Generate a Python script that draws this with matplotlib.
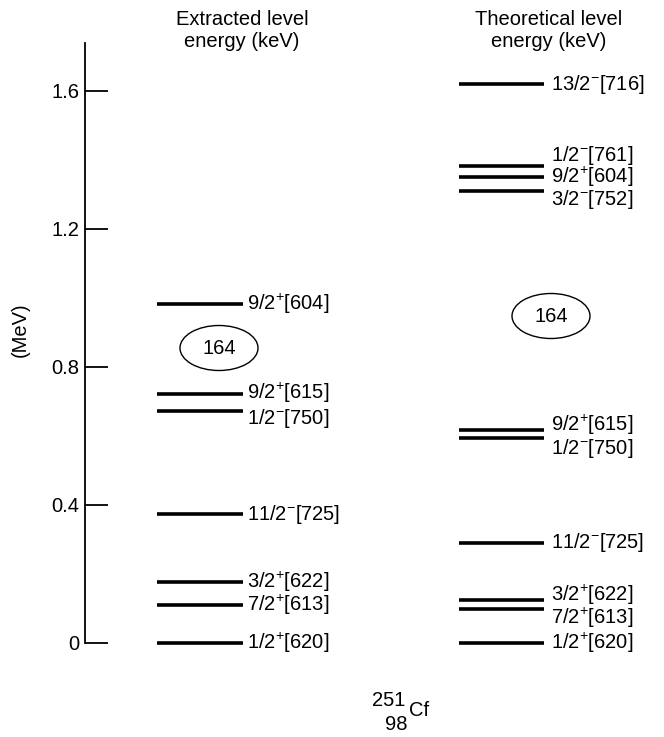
import matplotlib.pyplot as plt
from matplotlib.patches import Ellipse

plt.rcParams['font.family'] = ['Liberation Sans', 'DejaVu Sans']
plt.rcParams['mathtext.fontset'] = 'custom'
plt.rcParams['mathtext.rm'] = 'Liberation Sans'
plt.rcParams['mathtext.it'] = 'Liberation Sans:italic'
plt.rcParams['mathtext.bf'] = 'Liberation Sans:bold'

# level energies (MeV)
extracted_labels = ['1/2$^{+}$[620]', '7/2$^{+}$[613]', '3/2$^{+}$[622]', '11/2$^{-}$[725]',
                    '1/2$^{-}$[750]', '9/2$^{+}$[615]', '9/2$^{+}$[604]']
extracted_energy = [0.0, 0.108, 0.177, 0.373, 0.671, 0.720, 0.981]

theory_labels = ['1/2$^{+}$[620]', '7/2$^{+}$[613]', '3/2$^{+}$[622]', '11/2$^{-}$[725]',
                 '1/2$^{-}$[750]', '9/2$^{+}$[615]', '3/2$^{-}$[752]', '9/2$^{+}$[604]',
                 '1/2$^{-}$[761]', '13/2$^{-}$[716]']
theory_energy = [0.0, 0.097, 0.123, 0.290, 0.592, 0.617, 1.310, 1.349, 1.383, 1.619]

yticks = [0, 0.4, 0.8, 1.2, 1.6]
ytick_labels = ['0', '0.4', '0.8', '1.2', '1.6']

# label nudges (pixels, + = up) so crowded labels don't overlap
extracted_nudge = [0, 0, 0, 0, -7, 1, 0]
theory_nudge = [0, -9, 5, 0, -10, 5, -9, 0, 10, 0]

FS = 14.5

fig = plt.figure(figsize=(6.64, 7.37), dpi=100)
ax = fig.add_axes([0, 0, 1, 1])
px = 345.0  # pixels per MeV
y0 = 642.7
ax.set_xlim(0, 664)
ax.set_ylim((y0 - 737) / px, y0 / px)

for s in ['top', 'right', 'bottom']:
    ax.spines[s].set_visible(False)
ax.spines['left'].set_position(('data', 85))
ax.spines['left'].set_bounds(0, (y0 - 42.7) / px)
ax.spines['left'].set_linewidth(1.3)
ax.set_xticks([])
ax.set_yticks(yticks)
ax.set_yticklabels(ytick_labels)
ax.tick_params(axis='y', direction='in', length=16.5, width=1.3, labelsize=FS, pad=4)
ax.patch.set_visible(False)

ax.text(20, (y0 - 330) / px, '(MeV)', rotation=90, ha='center', va='center', fontsize=FS)

# levels
ax.hlines(extracted_energy, 157, 243, color='black', linewidth=2.6)
for lab, e, dn in zip(extracted_labels, extracted_energy, extracted_nudge):
    ax.annotate(lab, (247, e), xytext=(0, dn * 0.72), textcoords='offset points',
                ha='left', va='center', fontsize=FS)

ax.hlines(theory_energy, 459, 544, color='black', linewidth=2.6)
for lab, e, dn in zip(theory_labels, theory_energy, theory_nudge):
    ax.annotate(lab, (551, e), xytext=(0, dn * 0.72), textcoords='offset points',
                ha='left', va='center', fontsize=FS)

# column headers
ax.text(242, (y0 - 30) / px, 'Extracted level\nenergy (keV)', ha='center', va='center',
        fontsize=FS, linespacing=1.2)
ax.text(549, (y0 - 30) / px, 'Theoretical level\nenergy (keV)', ha='center', va='center',
        fontsize=FS, linespacing=1.2)

# 164 ellipses
ax.add_patch(Ellipse((219, (y0 - 348) / px), 78, 45 / px, fill=False, edgecolor='black', lw=1.0))
ax.text(219, (y0 - 348) / px, '164', ha='center', va='center', fontsize=FS)
ax.add_patch(Ellipse((551, (y0 - 316) / px), 78, 45 / px, fill=False, edgecolor='black', lw=1.0))
ax.text(551, (y0 - 316) / px, '164', ha='center', va='center', fontsize=FS)

# nucleus label
ax.text(389, (y0 - 700) / px, '251', ha='center', va='center', fontsize=FS)
ax.text(396, (y0 - 724) / px, '98', ha='center', va='center', fontsize=FS)
ax.text(419, (y0 - 711) / px, 'Cf', ha='center', va='center', fontsize=FS)

fig.savefig('out.png', dpi=100, facecolor='white')
